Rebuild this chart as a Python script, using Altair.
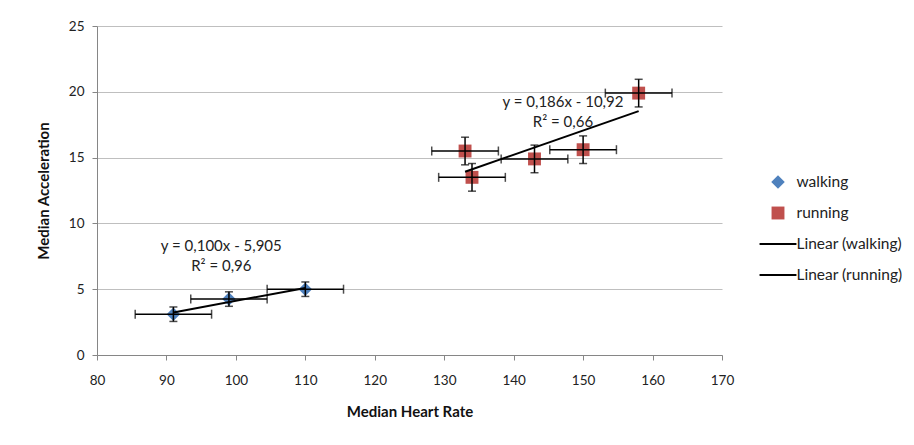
import altair as alt
import pandas as pd

# ---- data ----
groups = ["walking", "walking", "walking", "running", "running", "running", "running", "running"]
heart_rate = [91, 99, 110, 133, 134, 143, 150, 158]
acceleration = [3.1, 4.25, 5.0, 15.5, 13.5, 14.9, 15.6, 19.9]
hr_error = [5.5, 5.5, 5.5, 4.8, 4.8, 4.8, 4.8, 4.8]
acc_error = [0.55, 0.55, 0.55, 1.05, 1.05, 1.05, 1.05, 1.05]

series_names = ["walking", "running", "Linear (walking)", "Linear (running)"]
series_colors = ["#4F81BD", "#C0504D", "#000000", "#000000"]

eq_text = ["y = 0,100x - 5,905", "R² = 0,96", "y = 0,186x - 10,92", "R² = 0,66"]
eq_x = [97.9, 97.9, 147.1, 147.1]
eq_y = [8.3, 6.75, 19.2, 17.7]

x_ticks = [80, 90, 100, 110, 120, 130, 140, 150, 160, 170]
y_ticks = [0, 5, 10, 15, 20, 25]

# ---- styling ----
FONT = "Lato"
diamond = "M0,-0.45L0.45,0L0,0.45L-0.45,0Z"
square = "M-0.43,-0.43H0.43V0.43H-0.43Z"
line_sym = "M-1.23,-0.067H1.23V0.067H-1.23Z"
series_shapes = [diamond, square, line_sym, line_sym]

df = pd.DataFrame({
    "group": groups,
    "hr": heart_rate,
    "acc": acceleration,
    "hr_err": hr_error,
    "acc_err": acc_error,
})
df["series"] = df["group"]

eq_df = pd.DataFrame({"text": eq_text, "x": eq_x, "y": eq_y})

xscale = alt.Scale(domain=[80, 170], nice=False, zero=False)
yscale = alt.Scale(domain=[0, 25], nice=False)

xaxis = alt.Axis(values=x_ticks, grid=False, title="Median Heart Rate", labelFlush=False,
                 tickSize=5, labelPadding=13, titlePadding=18)
yaxis = alt.Axis(values=y_ticks, grid=True, title="Median Acceleration", labelFlush=False,
                 tickSize=5, labelPadding=8, titlePadding=17)

base = alt.Chart(df).transform_calculate(
    hr_lo="datum.hr - datum.hr_err",
    hr_hi="datum.hr + datum.hr_err",
    acc_lo="datum.acc - datum.acc_err",
    acc_hi="datum.acc + datum.acc_err",
)

points = base.mark_point(filled=True, size=900, opacity=1, strokeWidth=0).encode(
    x=alt.X("hr:Q", scale=xscale, axis=xaxis),
    y=alt.Y("acc:Q", scale=yscale, axis=yaxis),
    color=alt.Color("series:N",
                    scale=alt.Scale(domain=series_names, range=series_colors),
                    legend=alt.Legend(title=None, orient="none", legendX=666, legendY=141,
                                      symbolSize=900, labelOffset=3.5, rowPadding=7,
                                      padding=0, labelFontSize=15.5, labelFont=FONT,
                                      labelColor="#222222", symbolStrokeWidth=0)),
    shape=alt.Shape("series:N",
                    scale=alt.Scale(domain=series_names, range=series_shapes)),
)

trend = base.transform_regression("hr", "acc", groupby=["group"]).mark_line(
    color="black", strokeWidth=2
).encode(
    x=alt.X("hr:Q", scale=xscale),
    y=alt.Y("acc:Q", scale=yscale),
    detail="group:N",
)

hbar = base.mark_rule(color="black", strokeWidth=1.5).encode(
    x=alt.X("hr_lo:Q", scale=xscale), x2="hr_hi:Q", y=alt.Y("acc:Q", scale=yscale))
hcap_lo = base.mark_tick(color="black", orient="vertical", size=9, thickness=1.5).encode(
    x=alt.X("hr_lo:Q", scale=xscale), y=alt.Y("acc:Q", scale=yscale))
hcap_hi = base.mark_tick(color="black", orient="vertical", size=9, thickness=1.5).encode(
    x=alt.X("hr_hi:Q", scale=xscale), y=alt.Y("acc:Q", scale=yscale))

vbar = base.mark_rule(color="black", strokeWidth=1.5).encode(
    x=alt.X("hr:Q", scale=xscale), y=alt.Y("acc_lo:Q", scale=yscale), y2="acc_hi:Q")
vcap_lo = base.mark_tick(color="black", orient="horizontal", size=8, thickness=1.5).encode(
    x=alt.X("hr:Q", scale=xscale), y=alt.Y("acc_lo:Q", scale=yscale))
vcap_hi = base.mark_tick(color="black", orient="horizontal", size=8, thickness=1.5).encode(
    x=alt.X("hr:Q", scale=xscale), y=alt.Y("acc_hi:Q", scale=yscale))

labels = alt.Chart(eq_df).mark_text(font=FONT, fontSize=15, color="#222222",
                                    align="center", baseline="middle").encode(
    x=alt.X("x:Q", scale=xscale),
    y=alt.Y("y:Q", scale=yscale),
    text="text:N",
)

chart = alt.layer(
    points, trend, hbar, hcap_lo, hcap_hi, vbar, vcap_lo, vcap_hi, labels
).properties(
    width=625, height=329,
    background="white",
    autosize=alt.AutoSizeParams(type="none"),
    padding={"left": 89, "top": 18, "right": 180, "bottom": 80},
).configure_view(stroke=None).configure_axis(
    labelFont=FONT, labelFontSize=13.5, labelColor="#222222",
    titleFont=FONT, titleFontSize=15, titleFontWeight="bold", titleColor="#111111",
    domainColor="#868686", tickColor="#868686", gridColor="#BFBFBF",
)

chart.save("out.html", embed_options={"renderer": "svg", "actions": False})
